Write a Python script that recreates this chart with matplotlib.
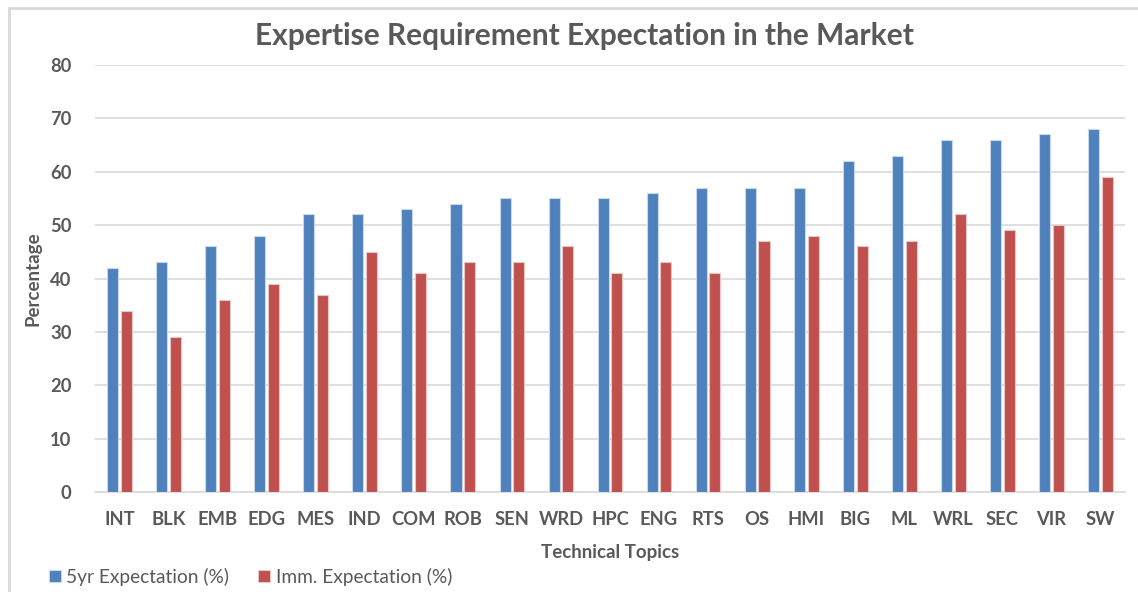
import numpy as np
import matplotlib
matplotlib.use("Agg")
import matplotlib.pyplot as plt
from matplotlib.patches import Rectangle

topics = ["INT", "BLK", "EMB", "EDG", "MES", "IND", "COM", "ROB", "SEN", "WRD", "HPC",
          "ENG", "RTS", "OS", "HMI", "BIG", "ML", "WRL", "SEC", "VIR", "SW"]
five_yr = [42, 43, 46, 48, 52, 52, 53, 54, 55, 55, 55, 56, 57, 57, 57, 62, 63, 66, 66, 67, 68]
immediate = [34, 29, 36, 39, 37, 45, 41, 43, 43, 46, 41, 43, 41, 47, 48, 46, 47, 52, 49, 50, 59]
y_ticks = [0, 10, 20, 30, 40, 50, 60, 70, 80]

blue = "#4F81BD"
red = "#C0504D"
text_gray = "#595959"
font = "Lato"

fig = plt.figure(figsize=(11.38, 5.92), dpi=100)
ax = fig.add_axes([95 / 1138, 1 - 492 / 592, 1030 / 1138, 427 / 592])

x = np.arange(len(topics))
w = 0.225
ax.bar(x - 0.14, five_yr, width=w, color=blue, edgecolor="#c9d7ea", linewidth=0.8, zorder=3,
       label="5yr Expectation (%)")
ax.bar(x + 0.14, immediate, width=w, color=red, edgecolor="#e8c4c3", linewidth=0.8, zorder=3,
       label="Imm. Expectation (%)")

ax.set_xlim(-0.5, len(topics) - 0.5)
ax.set_ylim(0, 80)
ax.set_yticks(y_ticks)
ax.set_xticks(x)
ax.set_xticklabels(topics)
ax.yaxis.grid(True, color="#d9d9d9", linewidth=1.2, zorder=0)
for s in ["top", "right", "left"]:
    ax.spines[s].set_visible(False)
ax.spines["bottom"].set_color("#d9d9d9")
ax.spines["bottom"].set_linewidth(1.2)
ax.tick_params(axis="both", length=0, colors=text_gray)
ax.tick_params(axis="y", pad=17)
ax.tick_params(axis="x", pad=14)
for lbl in ax.get_xticklabels() + ax.get_yticklabels():
    lbl.set_fontfamily(font)
    lbl.set_fontweight("bold")
    lbl.set_fontsize(13.2)

ax.set_xlabel("Technical Topics", fontfamily=font, fontweight="bold", fontsize=13.5,
              color=text_gray, labelpad=11)
ax.set_ylabel("Percentage", fontfamily=font, fontweight="bold", fontsize=13.5,
              color=text_gray, labelpad=6)

fig.text(584 / 1138, 1 - 36 / 592, "Expertise Requirement Expectation in the Market",
         fontfamily=font, fontweight="bold", fontsize=21.5, color=text_gray,
         ha="center", va="center")

fig.legend(loc="lower left", bbox_to_anchor=(32 / 1138, -0.019), ncol=2, frameon=False,
           prop={"family": font, "size": 13.8}, labelcolor=text_gray,
           handlelength=0.6, handleheight=0.6, handletextpad=0.3, columnspacing=1.5)

# light chart-area border
fig.patches.append(Rectangle((9 / 1138, -0.01), 1.1, 1 - 8 / 592 + 0.01,
                             transform=fig.transFigure, fill=False,
                             edgecolor="#d9d9d9", linewidth=2))

fig.savefig("out.png", dpi=100)
